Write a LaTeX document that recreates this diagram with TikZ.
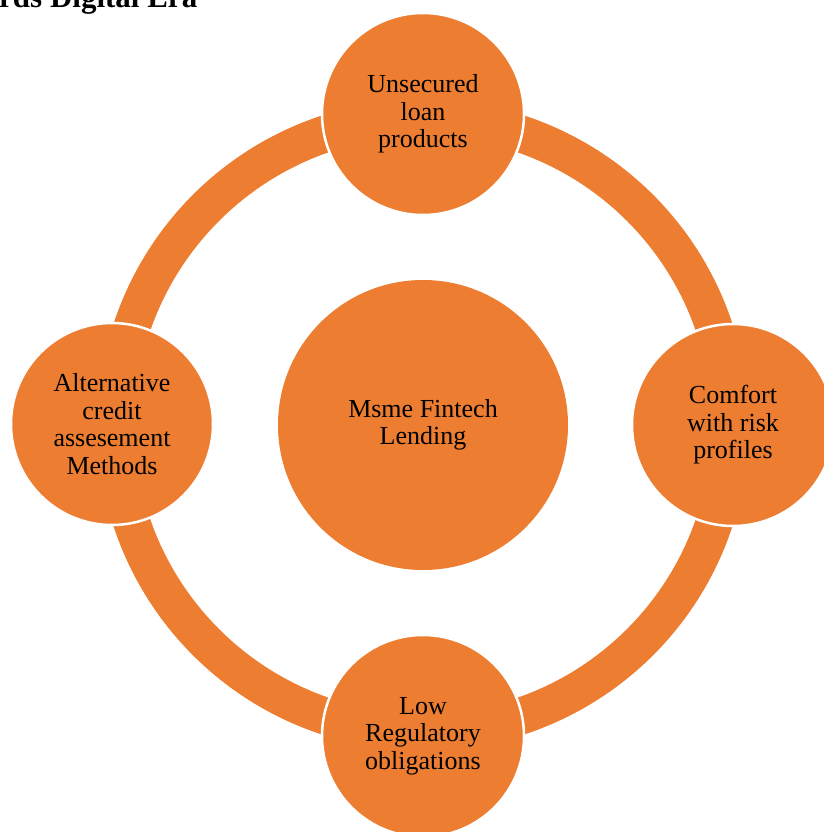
\documentclass[tikz,border=0pt]{standalone}
\usepackage{fontspec}
\setmainfont{Liberation Serif}
\definecolor{msmeorange}{HTML}{ED7D31}
\tikzset{
  bubble/.style={circle, fill=msmeorange, draw=white, line width=2.5pt,
    minimum size=202pt, inner sep=0pt, align=center,
    font=\fontsize{26}{27.5}\selectfont,
    execute at begin node=\rule{0pt}{24pt}},
  hubbubble/.style={bubble, draw=none, minimum size=290pt},
  ring/.style={draw=msmeorange, line width=37pt}
}
\begin{document}
\begin{tikzpicture}[x=1pt,y=-1pt]
  \useasboundingbox (0,0) rectangle (823,832);

  % heading, cut at the top of the page
  \node[anchor=base west, inner sep=0pt, font=\fontsize{31}{31}\selectfont\bfseries] (title) at (-1,8) {rds Digital Era};

  \node[hubbubble] (hub) at (423,425) {Msme Fintech\\Lending};
  \draw[ring] (hub.center) circle (307pt);

  \node[bubble] (unsecured) at (423,114) {Unsecured\\loan\\products};
  \node[bubble] (comfort) at (733,425) {Comfort\\with risk\\profiles};
  \node[bubble] (lowreg) at (423,736) {Low\\Regulatory\\obligations};
  \node[bubble] (altcredit) at (112,424) {Alternative\\credit\\assesement\\Methods};
\end{tikzpicture}
\end{document}
